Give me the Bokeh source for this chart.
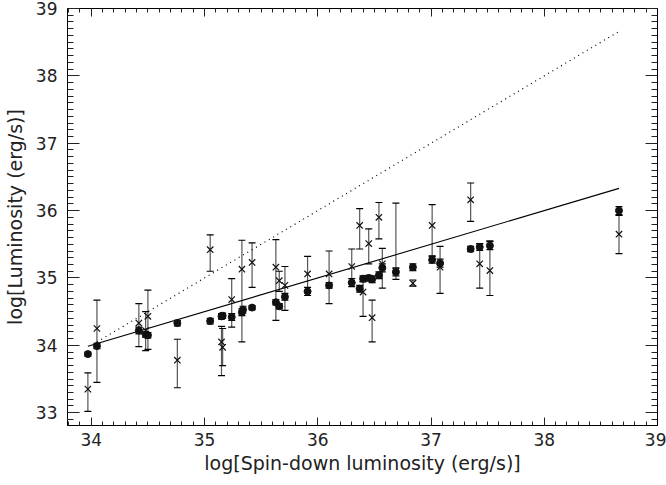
from bokeh.plotting import figure
from bokeh.models import (Range1d, LinearAxis, SingleIntervalTicker, Whisker,
                          TeeHead, ColumnDataSource)
from bokeh.embed import file_html
from bokeh.resources import INLINE

# ---- data ----
dot_x = [33.97, 34.05, 34.42, 34.48, 34.50, 34.76, 35.05, 35.15, 35.16, 35.24,
         35.33, 35.34, 35.42, 35.63, 35.66, 35.71, 35.91, 36.10, 36.30, 36.37,
         36.40, 36.45, 36.48, 36.54, 36.57, 36.69, 36.84, 37.01, 37.08, 37.35,
         37.43, 37.52, 38.66]
dot_y = [33.87, 33.99, 34.22, 34.16, 34.15, 34.33, 34.36, 34.43, 34.44, 34.42,
         34.49, 34.53, 34.56, 34.64, 34.58, 34.72, 34.80, 34.89, 34.93, 34.84,
         34.99, 35.00, 34.98, 35.04, 35.15, 35.09, 35.16, 35.27, 35.22, 35.43,
         35.46, 35.48, 36.00]
dot_err = [0.03, 0.04, 0.05, 0.04, 0.04, 0.04, 0.04, 0.04, 0.04, 0.05,
           0.05, 0.05, 0.03, 0.04, 0.04, 0.05, 0.06, 0.04, 0.06, 0.05,
           0.04, 0.04, 0.05, 0.05, 0.06, 0.06, 0.05, 0.05, 0.06, 0.04,
           0.05, 0.06, 0.06]

crs_x = [33.97, 34.05, 34.42, 34.48, 34.50, 34.76, 35.05, 35.15, 35.16, 35.24,
         35.33, 35.42, 35.63, 35.66, 35.71, 35.91, 36.10, 36.30, 36.37, 36.40,
         36.45, 36.48, 36.54, 36.57, 36.69, 36.84, 37.01, 37.08, 37.35, 37.43,
         37.52, 38.66]
crs_y = [33.35, 34.25, 34.33, 34.22, 34.43, 33.78, 35.42, 34.05, 33.97, 34.68,
         35.13, 35.23, 35.16, 34.96, 34.89, 35.06, 35.06, 35.17, 35.78, 34.79,
         35.51, 34.41, 35.90, 35.21, 35.10, 34.92, 35.78, 35.16, 36.16, 35.21,
         35.11, 35.65]
crs_lo = [33.02, 33.45, 33.98, 33.92, 33.94, 33.37, 35.10, 33.55, 33.70, 34.27,
          34.05, 34.86, 34.37, 34.80, 34.52, 34.80, 34.62, 34.93, 35.43, 34.43,
          35.21, 34.05, 35.58, 34.85, 34.98, 34.88, 35.33, 34.77, 35.84, 34.85,
          34.74, 35.36]
crs_hi = [33.59, 34.67, 34.62, 34.50, 34.82, 34.09, 35.64, 34.28, 34.25, 34.99,
          35.56, 35.52, 35.57, 35.10, 35.17, 35.32, 35.40, 35.43, 36.03, 34.94,
          35.73, 34.67, 36.12, 35.44, 36.11, 34.97, 36.09, 35.47, 36.41, 35.51,
          35.55, 35.93]

fit_x = [33.97, 38.66]
fit_y = [33.985, 36.33]
eq_x = [34.05, 38.65]
eq_y = [34.05, 38.65]

FONT = "DejaVu Sans"

p = figure(width=666, height=485, output_backend="svg", toolbar_location=None,
           x_range=Range1d(33.79, 39.0), y_range=Range1d(32.81, 39.0),
           min_border_left=67, min_border_right=9, min_border_top=8,
           min_border_bottom=60, x_axis_label="log[Spin-down luminosity (erg/s)]",
           y_axis_label="log[Luminosity (erg/s)]")
p.xgrid.visible = False
p.ygrid.visible = False
p.outline_line_color = "black"
p.background_fill_color = "white"
p.border_fill_color = "white"

def style_axis(ax, major_in, minor_in, labels=True):
    ax.major_tick_in = major_in
    ax.major_tick_out = 0
    ax.minor_tick_in = minor_in
    ax.minor_tick_out = 0
    ax.axis_line_color = "black"
    ax.major_tick_line_color = "#222222"
    ax.minor_tick_line_color = "#222222"
    if labels:
        ax.major_label_text_font = FONT
        ax.major_label_text_font_size = "17px"
        ax.major_label_text_color = "#222222"
        ax.axis_label_text_font = FONT
        ax.axis_label_text_font_size = "19px"
        ax.axis_label_text_font_style = "normal"
        ax.axis_label_text_color = "#222222"
    else:
        ax.major_label_text_font_size = "1px"
        ax.major_label_text_color = None
        ax.major_label_standoff = 0

for ax in p.xaxis:
    ax.ticker = SingleIntervalTicker(interval=1, num_minor_ticks=10)
    style_axis(ax, 8, 4)
    ax.major_label_standoff = 7
    ax.axis_label_standoff = 3
for ax in p.yaxis:
    ax.ticker = SingleIntervalTicker(interval=1, num_minor_ticks=10)
    style_axis(ax, 12, 6)
    ax.major_label_standoff = 10
    ax.axis_label_standoff = 7

top = LinearAxis(ticker=SingleIntervalTicker(interval=1, num_minor_ticks=10))
style_axis(top, 8, 4, labels=False)
p.add_layout(top, "above")
right = LinearAxis(ticker=SingleIntervalTicker(interval=1, num_minor_ticks=10))
style_axis(right, 12, 6, labels=False)
p.add_layout(right, "right")

# lines
p.line(eq_x, eq_y, line_color="black", line_width=1.2, line_dash="1 4")
p.line(fit_x, fit_y, line_color="black", line_width=1.1)

# error bars
dsrc = ColumnDataSource(dict(x=dot_x, y=dot_y,
                             lo=[a - b for a, b in zip(dot_y, dot_err)],
                             hi=[a + b for a, b in zip(dot_y, dot_err)]))
csrc = ColumnDataSource(dict(x=crs_x, y=crs_y, lo=crs_lo, hi=crs_hi))

for src in (csrc, dsrc):
    w = Whisker(source=src, base="x", lower="lo", upper="hi",
                line_color="#555555", line_width=1.2,
                upper_head=TeeHead(size=7, line_color="black", line_width=1.2),
                lower_head=TeeHead(size=7, line_color="black", line_width=1.2))
    p.add_layout(w)

p.scatter("x", "y", source=dsrc, marker="circle", size=7,
          fill_color="#111111", line_color="#111111")
p.scatter("x", "y", source=csrc, marker="x", size=9,
          line_color="#111111", line_width=1.2)

open("out.html", "w").write(file_html(p, INLINE))
